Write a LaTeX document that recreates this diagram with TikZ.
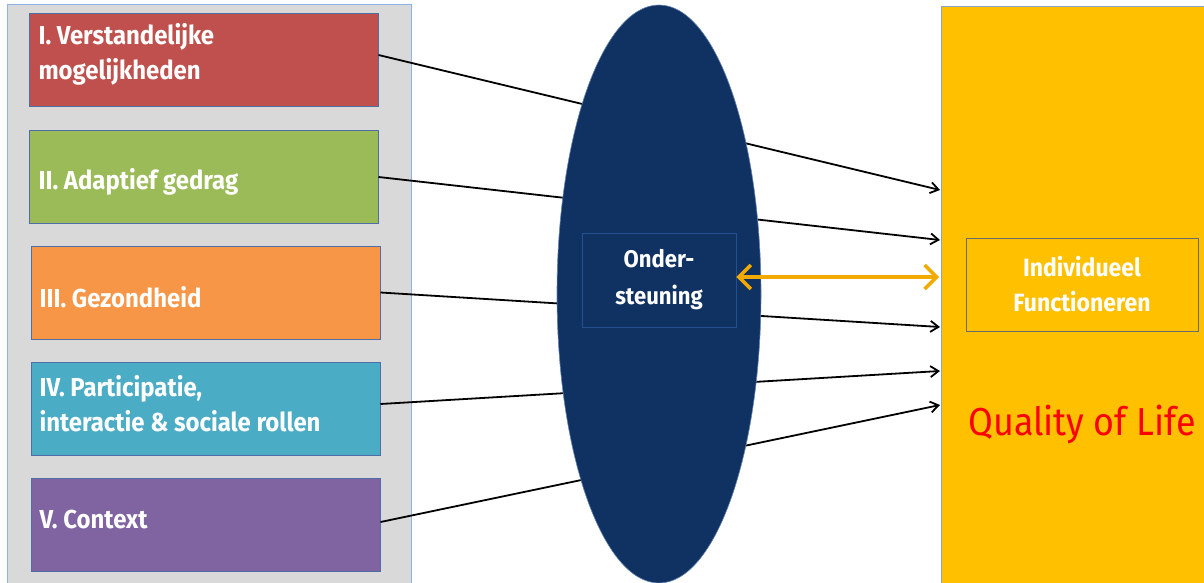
\documentclass[tikz,border=0pt]{standalone}
\usepackage{fontspec}
\setmainfont[FakeStretch=0.92]{Fira Sans}
\usetikzlibrary{arrows.meta,shapes.geometric,calc}
\definecolor{panelgray}{HTML}{D9D9D9}
\definecolor{panelline}{HTML}{8EB4E3}
\definecolor{boxline}{HTML}{4F6EA8}
\definecolor{cRed}{HTML}{C0504D}
\definecolor{cGreen}{HTML}{9BBB59}
\definecolor{cOrange}{HTML}{F79646}
\definecolor{cBlue}{HTML}{4BACC6}
\definecolor{cPurple}{HTML}{8064A2}
\definecolor{navy}{HTML}{0F3263}
\definecolor{navyline}{HTML}{24508F}
\definecolor{qolYellow}{HTML}{FFC000}
\definecolor{arrowOrange}{HTML}{F2A900}
\begin{document}
\begin{tikzpicture}[x=1pt,y=-1pt,
  dimbox/.style={rectangle,draw=boxline,line width=1pt,inner sep=0pt,
    minimum width=349pt,minimum height=93pt},
  dimtext/.style={anchor=west,text=white,align=left,font=\bfseries\fontsize{26}{35}\selectfont},
  link/.style={black,line width=1.8pt,-{Straight Barb[length=8pt,width=11pt,line width=1.8pt]}}
]
\useasboundingbox (0,0) rectangle (1204,583);

% left panel with the five dimensions
\fill[panelgray] (7,5) rectangle (411,590);
\draw[panelline,line width=1pt] (7,590) -- (7,5) -- (411,5) -- (411,590);

\node[dimbox,fill=cRed]    (b1) at (203.5,60.5) {};
\node[dimbox,fill=cGreen]  (b2) at (203.5,177) {};
\node[dimbox,fill=cOrange] (b3) at (205.5,292.5) {};
\node[dimbox,fill=cBlue]   (b4) at (205.5,408.5) {};
\node[dimbox,fill=cPurple] (b5) at (205.5,524.5) {};

\node[dimtext] (t1) at (35,54.5) {I. Verstandelijke\\mogelijkheden};
\node[dimtext] (t2) at (35,182) {II. Adaptief gedrag};
\node[dimtext] (t3) at (36,297) {III. Gezondheid};
\node[dimtext] (t4) at (36,404) {IV. Participatie,\\interactie \& sociale rollen};
\node[dimtext] (t5) at (36,519) {V. Context};

% end points on the yellow panel
\coordinate (e1) at (940,190);
\coordinate (e2) at (940,240);
\coordinate (e3) at (940,327);
\coordinate (e4) at (940,371);
\coordinate (e5) at (940,405);

\draw[link] ([yshift=5.5pt]b1.east) -- (e1);
\draw[link] (b2.east) -- (e2);
\draw[link] (b3.east) -- (e3);
\draw[link] ([yshift=4.5pt]b4.east) -- (e4);
\draw[link] ([yshift=2.5pt]b5.east) -- (e5);

% support ellipse drawn over the connectors
\node[ellipse,fill=navy,draw=navyline!70!white,line width=0.6pt,inner sep=0pt,
  minimum width=204pt,minimum height=578pt] (ell) at (659,294) {};
\node[rectangle,draw=navyline,line width=0.6pt,inner sep=0pt,
  minimum width=154pt,minimum height=94pt,text=white,align=center,
  font=\bfseries\fontsize{24}{37}\selectfont] (ond) at (659,280) {Onder-\\steuning};

% quality of life panel
\fill[qolYellow] (941,7) rectangle (1210,590);
\draw[panelline!70!gray,line width=1pt] (941,590) -- (941,7) -- (1210,7);
\node[rectangle,draw=gray!85!black,line width=0.8pt,inner sep=0pt,
  minimum width=232pt,minimum height=93pt,text=white,align=center,
  font=\bfseries\fontsize{25}{35}\selectfont] (ind) at (1082,284.5) {Individueel\\Functioneren};
\node[text=red,font=\fontsize{39}{48}\selectfont] (qol) at (1082,424) {Quality of Life};

\coordinate (q) at (939,277);
\draw[arrowOrange,line width=3.5pt,
  {Straight Barb[length=12pt,width=24pt,line width=3.5pt]}-{Straight Barb[length=12pt,width=24pt,line width=3.5pt]}]
  (ond.east |- q) -- (q);
\end{tikzpicture}
\end{document}
